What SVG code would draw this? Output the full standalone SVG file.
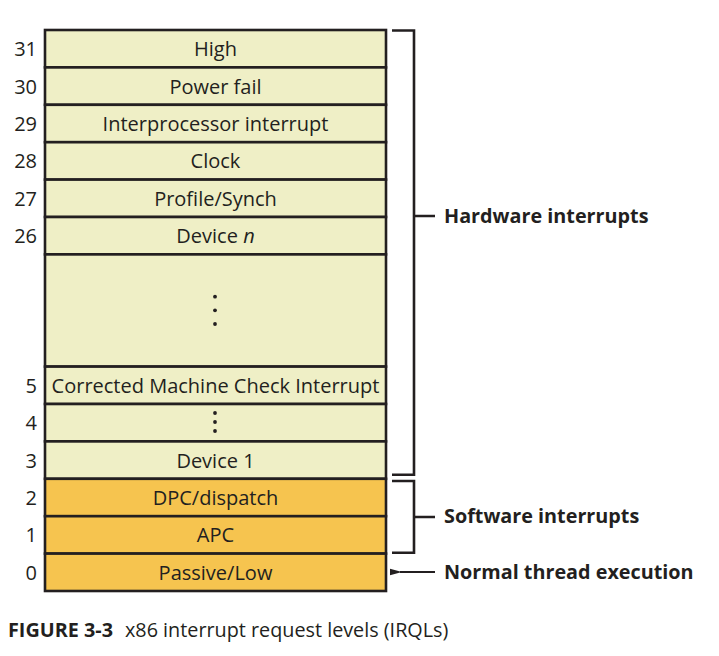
<svg xmlns="http://www.w3.org/2000/svg" width="719" height="656" viewBox="0 0 719 656">
<style>
.lvl{stroke:#231f20;stroke-width:2.6}
.hw{fill:#efefc6}
.sw{fill:#f6c44f}
.t{font-family:"Open Sans","Liberation Sans",sans-serif;font-size:20px;fill:#231f20;text-anchor:middle}
.n{font-family:"Open Sans","Liberation Sans",sans-serif;font-size:20px;fill:#231f20;text-anchor:end}
.b{font-family:"Open Sans","Liberation Sans",sans-serif;font-size:19.8px;font-weight:bold;fill:#231f20}
.br{fill:none;stroke:#231f20;stroke-width:2.6}
.dot{fill:#231f20}
.cap{font-family:"Open Sans","Liberation Sans",sans-serif;font-size:19.8px;fill:#231f20}
</style>
<defs>
<marker id="ah" markerWidth="14" markerHeight="10" refX="3" refY="5" orient="auto" markerUnits="userSpaceOnUse">
<path d="M13,1.8 L1,5 L13,8.2 Z" fill="#231f20"/>
</marker>
</defs>
<g id="level-31"><rect class="lvl hw" x="45" y="30" width="341" height="37.4"/><text class="t" x="215.5" y="56.2">High</text><text class="n" x="37" y="56.2">31</text></g>
<g id="level-30"><rect class="lvl hw" x="45" y="67.4" width="341" height="37.4"/><text class="t" x="215.5" y="93.6">Power fail</text><text class="n" x="37" y="93.6">30</text></g>
<g id="level-29"><rect class="lvl hw" x="45" y="104.8" width="341" height="37.4"/><text class="t" x="215.5" y="131">Interprocessor interrupt</text><text class="n" x="37" y="131">29</text></g>
<g id="level-28"><rect class="lvl hw" x="45" y="142.2" width="341" height="37.4"/><text class="t" x="215.5" y="168.4">Clock</text><text class="n" x="37" y="168.4">28</text></g>
<g id="level-27"><rect class="lvl hw" x="45" y="179.6" width="341" height="37.4"/><text class="t" x="215.5" y="205.8">Profile/Synch</text><text class="n" x="37" y="205.8">27</text></g>
<g id="level-26"><rect class="lvl hw" x="45" y="217" width="341" height="37.4"/><text class="t" x="215.5" y="243.2">Device <tspan font-style="italic">n</tspan></text><text class="n" x="37" y="243.2">26</text></g>
<g id="level-gap"><rect class="lvl hw" x="45" y="254.4" width="341" height="112.2"/><circle class="dot" cx="215" cy="296.7" r="1.9"/><circle class="dot" cx="215" cy="310.3" r="1.9"/><circle class="dot" cx="215" cy="324" r="1.9"/></g>
<g id="level-5"><rect class="lvl hw" x="45" y="366.6" width="341" height="37.4"/><text class="t" x="215.5" y="392.8">Corrected Machine Check Interrupt</text><text class="n" x="37" y="392.8">5</text></g>
<g id="level-4"><rect class="lvl hw" x="45" y="404" width="341" height="37.4"/><circle class="dot" cx="215" cy="413" r="1.9"/><circle class="dot" cx="215" cy="422" r="1.9"/><circle class="dot" cx="215" cy="431" r="1.9"/><text class="n" x="37" y="430.2">4</text></g>
<g id="level-3"><rect class="lvl hw" x="45" y="441.4" width="341" height="37.4"/><text class="t" x="215.5" y="467.6">Device 1</text><text class="n" x="37" y="467.6">3</text></g>
<g id="level-2"><rect class="lvl sw" x="45" y="478.8" width="341" height="37.4"/><text class="t" x="215.5" y="505">DPC/dispatch</text><text class="n" x="37" y="505">2</text></g>
<g id="level-1"><rect class="lvl sw" x="45" y="516.2" width="341" height="37.4"/><text class="t" x="215.5" y="542.4">APC</text><text class="n" x="37" y="542.4">1</text></g>
<g id="level-0"><rect class="lvl sw" x="45" y="553.6" width="341" height="37.4"/><text class="t" x="215.5" y="579.8">Passive/Low</text><text class="n" x="37" y="579.8">0</text></g>
<g id="connectors">
<path class="br" d="M392,30.5 H414 V474.8 H392 M414,216 H435"/>
<path class="br" d="M392,481 H414 V552.7 H392 M414,517 H435"/>
<line x1="435" y1="572" x2="400" y2="572" stroke="#231f20" stroke-width="2" marker-end="url(#ah)"/>
</g>
<g id="labels">
<text class="b" x="444" y="222.7">Hardware interrupts</text>
<text class="b" x="444" y="523.3">Software interrupts</text>
<text class="b" x="444" y="578.5">Normal thread execution</text>
</g>
<g id="caption">
<text class="cap" x="8" y="637"><tspan font-weight="bold">FIGURE 3-3</tspan><tspan x="125">x86 interrupt request levels (IRQLs)</tspan></text>
</g>
</svg>
